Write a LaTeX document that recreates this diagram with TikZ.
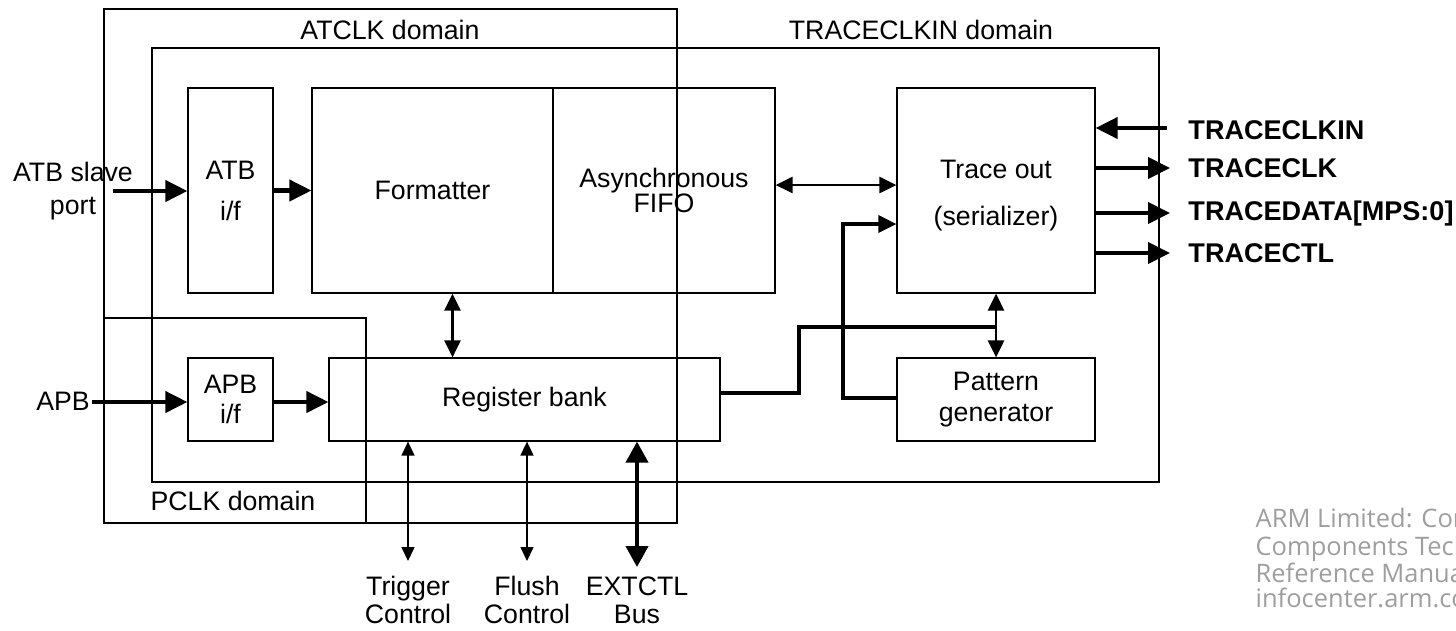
\documentclass[tikz,border=0pt]{standalone}
\usepackage{fontspec}
\setmainfont{Liberation Sans}
\newfontfamily\markfont{Open Sans}
\usetikzlibrary{arrows.meta}

\begin{document}
\begin{tikzpicture}[x=0.02cm, y=-0.02cm, line width=0.7pt,
    font=\fontsize{15.2}{18.4}\selectfont,
    blk/.style 2 args={draw, inner sep=0pt, minimum width=#1, minimum height=#2, align=center},
    bus/.style={line width=2.3pt, -{Triangle[length=0.44cm, width=0.42cm]}},
    dbus/.style={line width=2.3pt, {Triangle[length=0.42cm, width=0.44cm]}-{Triangle[length=0.42cm, width=0.44cm]}},
    link/.style={line width=1.6pt, {Triangle[length=0.34cm, width=0.32cm]}-{Triangle[length=0.34cm, width=0.32cm]}},
    ctl/.style={line width=0.9pt, {Triangle[length=0.28cm, width=0.26cm]}-{Triangle[length=0.28cm, width=0.26cm]}},
    sig/.style={anchor=west, font=\fontsize{15.4}{18}\selectfont\bfseries}]
    \useasboundingbox (0,0) rectangle (1456,630);
    \clip (0,0) rectangle (1456,630);

    \draw (104,9) rectangle (677,523);
    \draw (152,48) rectangle (1159,482);
    \draw (104,318) -- (366,318) -- (366,523);
    \node(atclk) at (390,30) {ATCLK domain};
    \node(tclkin) at (921,30) {TRACECLKIN domain};
    \node(pclk) at (233,501) {PCLK domain};

    \node(atbif)[blk={1.70cm}{4.10cm}] at (230.5,190.5) {ATB\\[5pt]i/f};
    \node(fmt)[blk={4.82cm}{4.10cm}] at (432.5,190.5) {Formatter};
    \node(fifo)[blk={4.44cm}{4.10cm}] at (664,190.5) {Asynchronous\\[-4pt]FIFO};
    \node(trace)[blk={3.96cm}{4.10cm}, label={[align=center, yshift=-0.1cm]center:Trace out\\[8pt](serializer)}] at (996,190.5) {};
    \node(apbif)[blk={1.70cm}{1.66cm}] at (230.5,399.5) {APB\\[-1pt]i/f};
    \node(regbank)[blk={7.82cm}{1.66cm}] at (524.5,399.5) {Register bank};
    \node(pattern)[blk={3.96cm}{1.66cm}] at (996,399.5) {Pattern\\[-1pt]generator};

    \node(atbin)[align=center] at (73,191) {ATB slave\\port};
    \node(apbin) at (63,401) {APB};
    \coordinate(atbsrc) at (113,191);
    \coordinate(apbsrc) at (92,402);
    \draw[bus] (atbsrc) -- (atbsrc -| atbif.west);
    \draw[bus] (atbif.east) -- (fmt.west);
    \draw[bus] (apbsrc) -- (apbsrc -| apbif.west);
    \draw[bus] (apbif.east |- apbsrc) -- (apbsrc -| regbank.west);

    \draw[link] ([xshift=0.4cm]fmt.south) -- ([xshift=0.4cm]fmt.south |- regbank.north);
    \draw[link] ([yshift=0.11cm]fifo.east) -- ([yshift=0.11cm]trace.west);
    \draw[link] (trace.south) -- (pattern.north);
    \coordinate(jn) at (996,327);
    \coordinate(ptap) at (843,224);
    \draw[line width=2.3pt] ([yshift=0.13cm]regbank.east) -| (799,327) -- (jn);
    \draw[line width=1.8pt, -{Triangle[length=0.36cm, width=0.34cm]}] ([yshift=0.03cm]pattern.west) -| (ptap) -- (ptap -| trace.west);

    \coordinate(inclk) at (1167,128);
    \coordinate(outclk) at (1170,168);
    \coordinate(outdata) at (1170,213);
    \coordinate(outctl) at (1170,253);
    \draw[bus] (inclk) -- (inclk -| trace.east);
    \draw[bus] (outclk -| trace.east) -- (outclk);
    \draw[bus] (outdata -| trace.east) -- (outdata);
    \draw[bus] (outctl -| trace.east) -- (outctl);
    \node(inclklbl)[sig] at (1182,130) {TRACECLKIN};
    \node(outclklbl)[sig] at (1182,168) {TRACECLK};
    \node(outdatalbl)[sig] at (1182,213) {TRACEDATA[MPS:0]};
    \node(outctllbl)[sig] at (1182,253) {TRACECTL};

    \node(trig)[align=center, anchor=north, inner sep=0pt] at (408,576) {Trigger\\[-2.5pt]Control};
    \node(flush)[align=center, anchor=north, inner sep=0pt] at (527,576) {Flush\\[-2.5pt]Control};
    \node(extctl)[align=center, anchor=north, inner sep=0pt] at (637,576) {EXTCTL\\[-2.5pt]Bus};
    \draw[ctl] (regbank.south -| trig) -- (408,561);
    \draw[ctl] (regbank.south -| flush) -- (527,561);
    \draw[dbus] (regbank.south -| extctl) -- (637,567);

    \node(mark)[anchor=north west, align=left, inner sep=0pt, text=black!38,
        font=\markfont\fontsize{14.5}{13.9pt}\selectfont] at (1255,508)
        {ARM Limited: CoreSight\\Components Technical\\Reference Manual\\infocenter.arm.com};
\end{tikzpicture}
\end{document}
